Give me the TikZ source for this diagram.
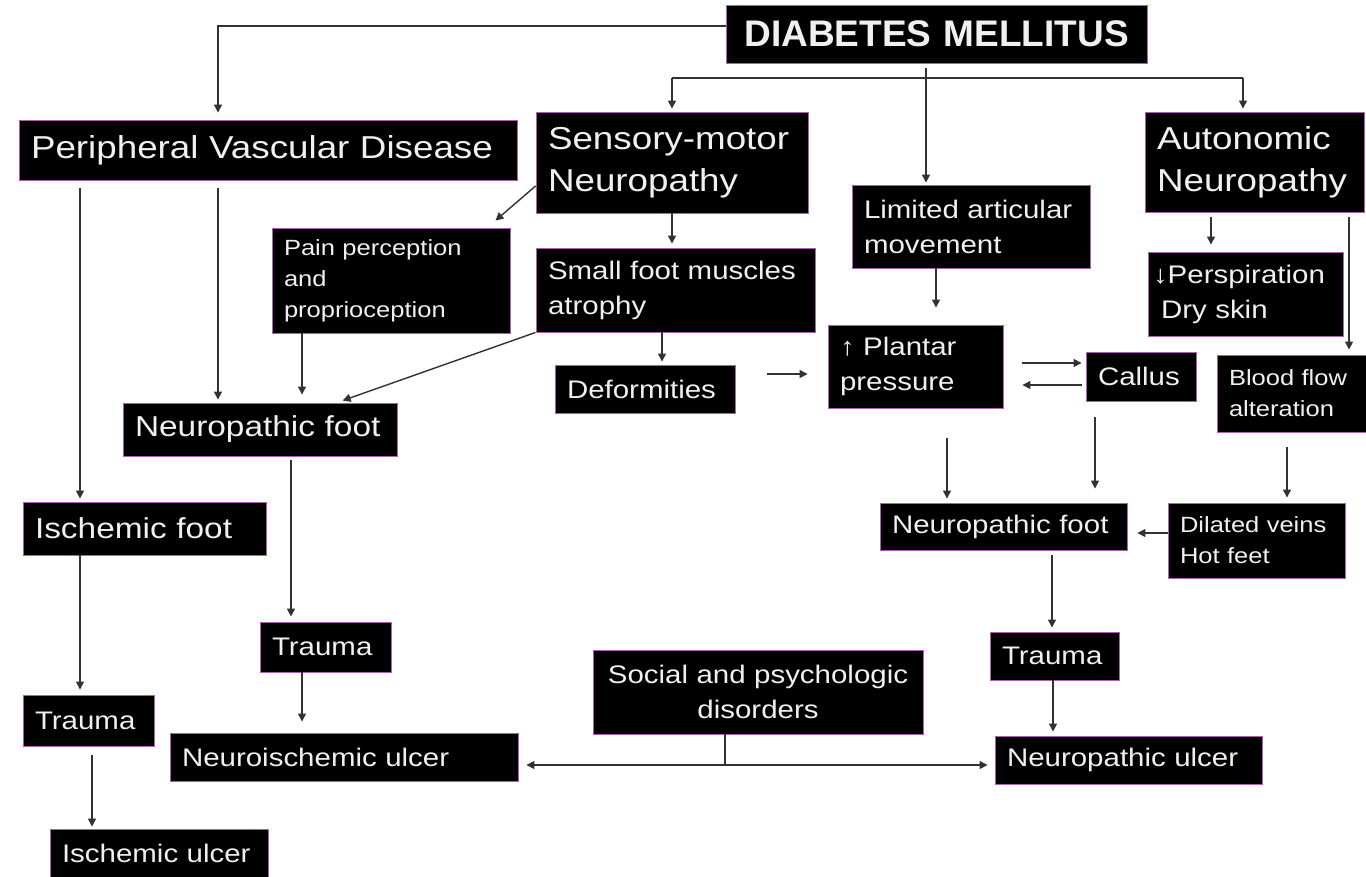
\documentclass[tikz,border=0pt]{standalone}
\usepackage{fontspec}
\setmainfont{Liberation Sans}[FakeStretch=1.16]
\newfontfamily\dmfamily{Liberation Sans}
\usetikzlibrary{arrows.meta,calc}
\definecolor{boxedge}{RGB}{175,95,175}
\definecolor{conncol}{RGB}{50,50,50}
\newcommand\fsBig{\fontsize{31.7pt}{42pt}\selectfont}
\newcommand\fsFoot{\fontsize{28.8pt}{36pt}\selectfont}
\newcommand\fsNorm{\fontsize{25.4pt}{35pt}\selectfont}
\newcommand\fsSmall{\fontsize{22pt}{31pt}\selectfont}
\newcommand\fsDM{\dmfamily\bfseries\fontsize{37pt}{40pt}\selectfont}
\begin{document}
\begin{tikzpicture}[x=1pt,y=-1pt,
 box/.style={fill=black, draw=boxedge, line width=0.9pt, text=white!94!black, inner xsep=12pt, inner ysep=0pt, align=left},
 arr/.style={draw=conncol, line width=1.4pt, -{Triangle[width=8pt,length=8pt]}},
 plain/.style={draw=conncol, line width=1.4pt}]
\useasboundingbox[fill=white] (0,0) rectangle (1366,876);

\node[box, font=\fsDM, align=center, text width=397pt, minimum height=58pt] (dm) at (936.5,34) {DIABETES MELLITUS};
\node[box, font=\fsBig, text width=474pt, minimum height=60pt] (pvd) at (268,150) {Peripheral Vascular Disease};
\node[box, font=\fsBig, text width=248pt, minimum height=101pt] (sm) at (672,162.5) {Sensory-motor\\Neuropathy};
\node[box, font=\fsNorm, text width=214pt, minimum height=83pt] (lam) at (971,226.5) {Limited articular\\movement};
\node[box, font=\fsBig, text width=195pt, minimum height=100pt] (an) at (1254.5,162) {Autonomic\\Neuropathy};
\node[box, font=\fsSmall, text width=214pt, minimum height=105pt] (pain) at (391,280.5) {Pain perception\\and\\proprioception};
\node[box, font=\fsNorm, text width=255pt, minimum height=84pt] (sfm) at (675.5,290) {Small foot muscles\\atrophy};
\node[box, font=\fsNorm, text width=156pt, minimum height=48pt] (def) at (645,389) {Deformities};
\node[box, font=\fsNorm, text width=151pt, minimum height=83pt] (pp) at (915.5,366.5) {↑ Plantar\\pressure};
\node[box, font=\fsNorm, text width=86pt, minimum height=49pt] (cal) at (1141,376.5) {Callus};
\node[box, font=\fsNorm, inner xsep=5pt, text width=185pt, minimum height=84pt] (per) at (1245.5,294) {↓Perspiration\\\hspace*{8pt}Dry skin};
\node[box, font=\fsSmall, text width=125pt, minimum height=77pt] (bfa) at (1291.5,393.5) {Blood flow\\alteration};
\node[box, font=\fsFoot, text width=250pt, minimum height=53pt] (nfl) at (260,429.5) {Neuropathic foot};
\node[box, font=\fsNorm, text width=223pt, minimum height=47pt] (nfr) at (1003.5,526.5) {Neuropathic foot};
\node[box, font=\fsSmall, text width=153pt, minimum height=75pt] (dv) at (1256.5,540.5) {Dilated veins\\Hot feet};
\node[box, font=\fsFoot, text width=219pt, minimum height=53pt] (isf) at (144.5,528.5) {Ischemic foot};
\node[box, font=\fsNorm, text width=107pt, minimum height=51pt] (trl) at (88.5,720.5) {Trauma};
\node[box, font=\fsNorm, text width=194pt, minimum height=48pt] (isu) at (159,853) {Ischemic ulcer};
\node[box, font=\fsNorm, text width=107pt, minimum height=50pt] (trm) at (325.5,647) {Trauma};
\node[box, font=\fsNorm, text width=324pt, minimum height=48pt] (niu) at (344,757) {Neuroischemic ulcer};
\node[box, font=\fsNorm, align=center, text width=306pt, minimum height=84pt] (spd) at (758,692) {Social and psychologic\\disorders};
\node[box, font=\fsNorm, text width=105pt, minimum height=48pt] (trr) at (1054.5,656) {Trauma};
\node[box, font=\fsNorm, text width=243pt, minimum height=48pt] (npu) at (1128.5,760) {Neuropathic ulcer};

% top connectors
\draw[arr, shorten >=7pt] ([yshift=8pt]dm.west) -| ([xshift=-50pt]pvd.north);
\coordinate (busL) at (672,78);
\coordinate (busR) at (1243,78);
\draw[plain] (busL) -- (busR);
\draw[arr, shorten <=5pt, shorten >=2pt] ([xshift=-10.5pt]dm.south) -- ([xshift=-45pt]lam.north);
\draw[arr, shorten >=3pt] (busL) -- (sm.north);
\draw[arr, shorten >=3pt] (busR) -- ([xshift=-11.5pt]an.north);

% sensory-motor branch
\draw[arr] ([yshift=-23.5pt]sm.west) -- ([xshift=-15pt,yshift=7pt]pain.north east);
\draw[arr, shorten >=4pt] (sm.south) -- (sm.south |- sfm.north);
\draw[arr, shorten >=3pt] ([xshift=-13.5pt]sfm.south) -- ([xshift=17pt]def.north);
\draw[arr, shorten >=6pt] (sfm.south west) -- ([xshift=77pt]nfl.north);
\draw[arr] ([xshift=32pt,yshift=15pt]def.east) -- ([xshift=-20pt,yshift=-7.5pt]pp.west);
\draw[arr, shorten >=17pt] ([xshift=-35pt]lam.south) -- ([xshift=20.5pt]pp.north);
\draw[arr, shorten <=19pt, shorten >=4pt] ([yshift=3.5pt]pp.east) -- ([yshift=13.5pt]cal.west);
\draw[arr, shorten <=4pt, shorten >=19pt] ([yshift=-8.5pt]cal.west) -- ([yshift=-18.5pt]pp.east);
\draw[arr, shorten <=30pt, shorten >=4pt] ([xshift=31.5pt]pp.south) -- ([xshift=-56.5pt]nfr.north);
\draw[arr, shorten <=16pt, shorten >=14pt] ([xshift=-46pt]cal.south) -- ([xshift=91.5pt]nfr.north);

% autonomic branch
\draw[arr, shorten <=5pt, shorten >=7pt] ([xshift=-43.5pt]an.south) -- ([xshift=-34.5pt]per.north);
\draw[arr, shorten <=5pt, shorten >=5pt] ([xshift=94.5pt]an.south) -- ([xshift=57.5pt]bfa.north);
\draw[arr, shorten <=15pt, shorten >=5pt] ([xshift=-4.5pt]bfa.south) -- ([xshift=30.5pt]dv.north);
\draw[arr, shorten >=10pt] ([yshift=7.5pt]dv.west) -- ([yshift=-6.5pt]nfr.east);
\draw[arr, shorten <=5pt, shorten >=4pt] ([xshift=48.5pt]nfr.south) -- ([xshift=-2.5pt]trr.north);
\draw[arr, shorten >=4pt] ([xshift=-1.5pt]trr.south) -- ([xshift=-75.5pt]npu.north);

% social
\coordinate (sj) at (725,765);
\draw[plain] ([xshift=-33pt]spd.south) -- (sj);
\draw[arr, shorten >=8pt] (sj) -- (sj -| niu.east);
\draw[arr, shorten >=7pt] (sj) -- (sj -| npu.west);

% left side
\draw[arr, shorten <=8pt, shorten >=3pt] ([xshift=-188pt]pvd.south) -- ([xshift=-64.5pt]isf.north);
\draw[arr, shorten <=8pt, shorten >=3pt] ([xshift=-50pt]pvd.south) -- ([xshift=-42pt]nfl.north);
\draw[arr, shorten >=8pt] ([xshift=-89pt]pain.south) -- ([xshift=42pt]nfl.north);
\draw[arr, shorten <=4pt, shorten >=5pt] ([xshift=31pt]nfl.south) -- ([xshift=-34.5pt]trm.north);
\draw[arr, shorten >=11pt] ([xshift=-23.5pt]trm.south) -- ([xshift=-42pt]niu.north);
\draw[arr, shorten >=5pt] ([xshift=-64.5pt]isf.south) -- ([xshift=-8.5pt]trl.north);
\draw[arr, shorten <=9pt, shorten >=2pt] ([xshift=3.5pt]trl.south) -- ([xshift=-67pt]isu.north);
\end{tikzpicture}
\end{document}
